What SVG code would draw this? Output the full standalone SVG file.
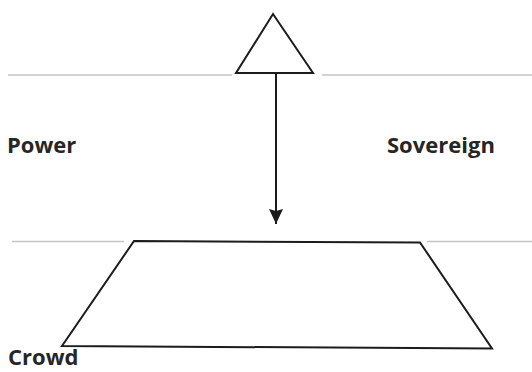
<svg xmlns="http://www.w3.org/2000/svg" width="532" height="372" viewBox="0 0 532 372">
  <style>
    .rule { stroke: #c4c4c4; stroke-width: 1.5; fill: none; }
    .shape { stroke: #1c1c1c; stroke-width: 2; fill: #ffffff; stroke-linejoin: miter; }
    .edge { stroke: #1c1c1c; stroke-width: 2; fill: none; }
    .label { font-family: "Open Sans", "Liberation Sans", sans-serif; font-weight: bold; font-size: 22px; fill: #262626; }
  </style>
  <defs>
    <marker id="arrow" viewBox="0 0 15 14" refX="15" refY="7" markerWidth="15" markerHeight="14" markerUnits="userSpaceOnUse" orient="auto">
      <path d="M0,0 L15,7 L0,14 L2,7 Z" fill="#1c1c1c"/>
    </marker>
  </defs>
  <rect width="532" height="372" fill="#ffffff"/>

  <!-- faint horizontal rules -->
  <g id="rules">
    <line class="rule" x1="8" y1="75" x2="232" y2="75"/>
    <line class="rule" x1="322" y1="75" x2="532" y2="75"/>
    <line class="rule" x1="12" y1="241.5" x2="124" y2="241.5"/>
    <line class="rule" x1="427" y1="241.5" x2="532" y2="241.5"/>
  </g>

  <g id="sovereign-node">
    <polygon class="shape" points="273,14 313,73 236,73"/>
  </g>

  <g id="crowd-node">
    <polygon class="shape" points="134,241 420,242.5 492,348.5 62,346"/>
  </g>

  <g id="connectors">
    <line class="edge" x1="276" y1="73" x2="276" y2="224" marker-end="url(#arrow)"/>
  </g>

  <g id="labels">
    <text class="label" x="7" y="153">Power</text>
    <text class="label" x="387" y="153">Sovereign</text>
    <text class="label" x="8" y="365">Crowd</text>
  </g>
</svg>
